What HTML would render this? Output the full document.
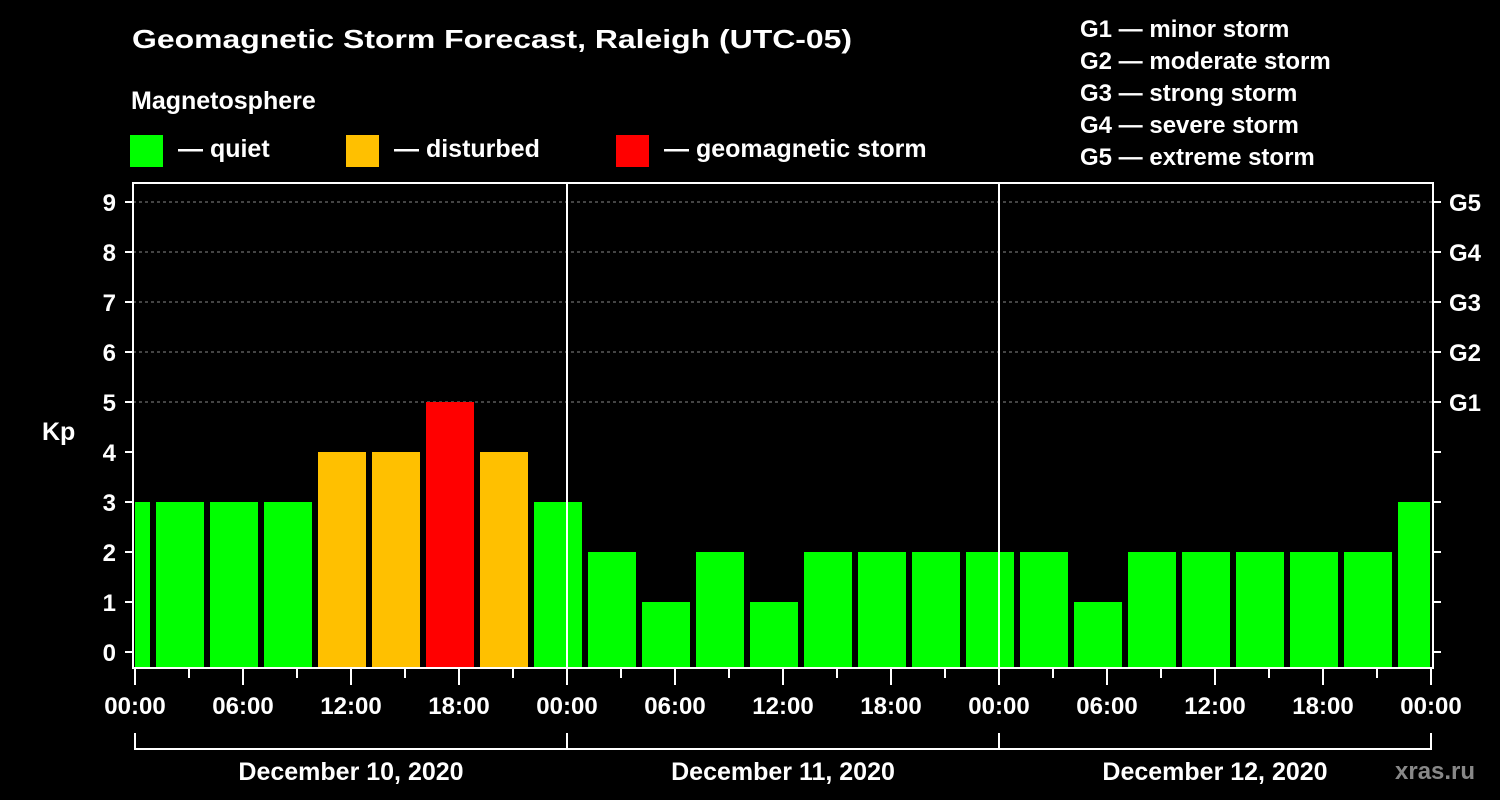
<!DOCTYPE html>
<html><head><meta charset="utf-8"><style>
html,body{margin:0;padding:0;background:#000;}
svg{display:block;font-family:"Liberation Sans",Arial,sans-serif;font-weight:bold;}
</style></head><body>
<svg id="chart" width="1500" height="800" viewBox="0 0 1500 800" xmlns="http://www.w3.org/2000/svg">
<rect width="1500" height="800" fill="#000"/>
<text x="132" y="48" fill="#fff" font-size="26" textLength="720" lengthAdjust="spacingAndGlyphs">Geomagnetic Storm Forecast, Raleigh (UTC-05)</text>
<text x="131" y="109" fill="#fff" font-size="25">Magnetosphere</text>
<g><rect x="130" y="135" width="33" height="32" fill="#00ff00"/><text x="178" y="157" fill="#fff" font-size="25">— quiet</text></g>
<g><rect x="346" y="135" width="33" height="32" fill="#ffc000"/><text x="394" y="157" fill="#fff" font-size="25">— disturbed</text></g>
<g><rect x="616" y="135" width="33" height="32" fill="#ff0000"/><text x="664" y="157" fill="#fff" font-size="25">— geomagnetic storm</text></g>
<g fill="#fff" font-size="24">
<text x="1080" y="37">G1 — minor storm</text>
<text x="1080" y="69">G2 — moderate storm</text>
<text x="1080" y="101">G3 — strong storm</text>
<text x="1080" y="133">G4 — severe storm</text>
<text x="1080" y="165">G5 — extreme storm</text>
</g>
<defs><clipPath id="plotclip"><rect x="135" y="183" width="1295" height="485"/></clipPath></defs>
<g id="grid"></g>
<g id="bars" clip-path="url(#plotclip)"></g>
<g id="axes"></g>
<text x="42" y="440" fill="#fff" font-size="25">Kp</text>
<text x="1395" y="779" fill="#888" font-size="24">xras.ru</text>
</svg>
<script>
const kpValues = [3,3,3,3,4,4,5,4,3,2,1,2,1,2,2,2,2,2,1,2,2,2,2,2,3];
const yTicks = [0,1,2,3,4,5,6,7,8,9];
const gLabels = ["G1","G2","G3","G4","G5"];
const timeLabels = ["00:00","06:00","12:00","18:00","00:00","06:00","12:00","18:00","00:00","06:00","12:00","18:00","00:00"];
const dayLabels = ["December 10, 2020","December 11, 2020","December 12, 2020"];
const firstSlotHour = -2;
const NS="http://www.w3.org/2000/svg";
const X0=135, PXH=18, Y0=652, PXU=50, BOT=668, TOP=183, RIGHT=1431;
const xs=h=>X0+h*PXH, ys=v=>Y0-v*PXU;
function mk(tag,attrs,parent,text){const e=document.createElementNS(NS,tag);for(const k in attrs)e.setAttribute(k,attrs[k]);if(text!==undefined)e.textContent=text;parent.appendChild(e);return e;}
const grid=document.getElementById('grid'),bars=document.getElementById('bars'),axes=document.getElementById('axes');
function color(v){return v>=5?'#ff0000':(v>=4?'#ffc000':'#00ff00');}
kpValues.forEach((v,i)=>{
  const h0=firstSlotHour+3*i;
  const r=mk('rect',{x:xs(h0)+3,y:ys(v),width:3*PXH-6,height:BOT-ys(v),fill:color(v)},bars);
  
  
});
yTicks.forEach(t=>{
  const y=ys(t);
  if(t>=5){const g=mk('line',{x1:133,x2:1433,y1:y,y2:y,stroke:'#888','stroke-dasharray':'3,3','stroke-width':1},grid);
    
    }
  mk('line',{x1:125,x2:133,y1:y,y2:y,stroke:'#fff','stroke-width':2},axes);
  mk('line',{x1:1433,x2:1441,y1:y,y2:y,stroke:'#fff','stroke-width':2},axes);
  const l=mk('text',{x:116,y:y+9,fill:'#fff','font-size':24,'text-anchor':'end'},axes,String(t));
  
  
  if(t>=5){const g=mk('text',{x:1449,y:y+9,fill:'#fff','font-size':24},axes,gLabels[t-5]);
    
    }
});
// frame
mk('line',{x1:133,x2:133,y1:182,y2:669,stroke:'#fff','stroke-width':2},axes);
mk('line',{x1:1433,x2:1433,y1:182,y2:669,stroke:'#fff','stroke-width':2},axes);
mk('line',{x1:132,x2:1434,y1:183,y2:183,stroke:'#fff','stroke-width':2},axes);
mk('line',{x1:132,x2:1434,y1:668,y2:668,stroke:'#fff','stroke-width':2},axes);
for(let d=1;d<dayLabels.length;d++){const s=mk('line',{x1:xs(24*d),x2:xs(24*d),y1:182,y2:668,stroke:'#fff','stroke-width':2},axes);
  
  }
for(let h=0;h<=72;h+=3){const major=h%6===0;mk('line',{x1:xs(h),x2:xs(h),y1:669,y2:major?685:678,stroke:'#fff','stroke-width':2},axes);}
timeLabels.forEach((s,i)=>{const t=mk('text',{x:xs(6*i),y:714,fill:'#fff','font-size':24,'text-anchor':'middle'},axes,s);
  
  });
mk('line',{x1:xs(0),x2:xs(72),y1:749,y2:749,stroke:'#fff','stroke-width':2},axes);
for(let d=0;d<=dayLabels.length;d++)mk('line',{x1:xs(24*d),x2:xs(24*d),y1:733,y2:750,stroke:'#fff','stroke-width':2},axes);
dayLabels.forEach((s,i)=>{const t=mk('text',{x:xs(24*i+12),y:780,fill:'#fff','font-size':25,'text-anchor':'middle'},axes,s);
  
  });
</script>
</body></html>
